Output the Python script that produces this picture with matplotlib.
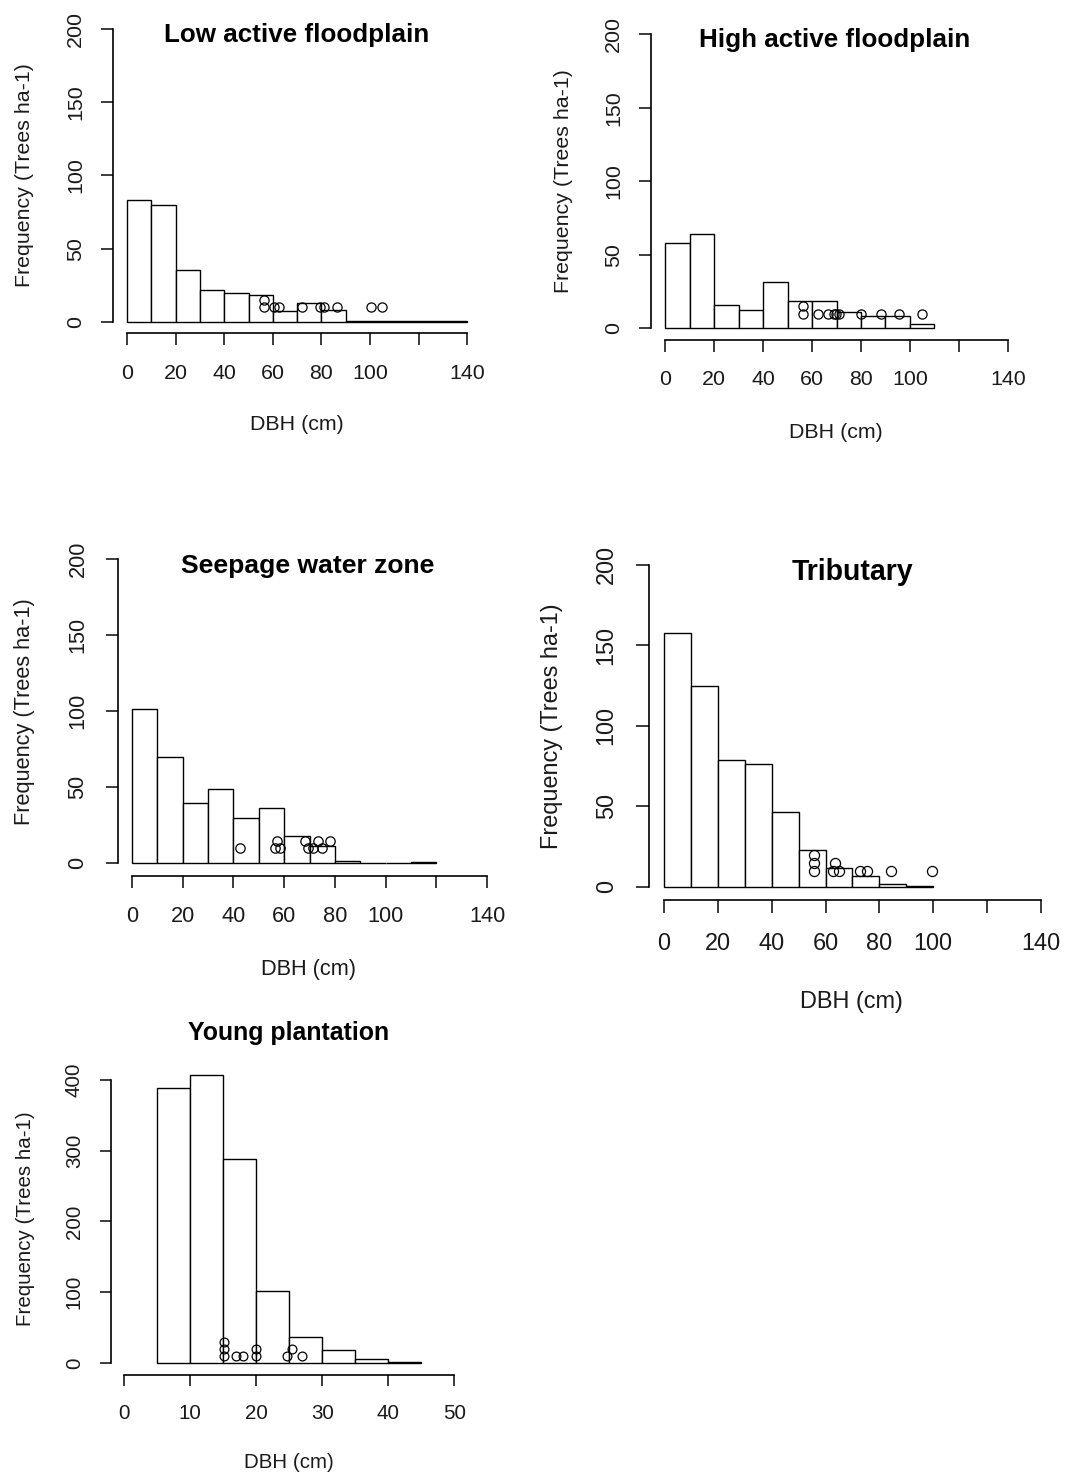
import numpy as np
import matplotlib
matplotlib.use("Agg")
import matplotlib.pyplot as plt

plt.rcParams['font.family'] = ['Liberation Sans', 'DejaVu Sans']

W, H = 1078, 1474

# ---- histogram heights (Trees ha-1) per 10 cm DBH class ----
low_edges = np.arange(0, 141, 10)
low_counts = [83.2, 79.5, 35.2, 21.4, 19.4, 18.6, 7.4, 13.0, 8.3, 0.7, 0.7, 0.5, 0.5, 0.5]
low_pts_x = [56.3, 56.3, 60.4, 62.5, 71.9, 79.4, 81.0, 86.3, 100.3, 105.1]
low_pts_y = [10, 15, 10, 10, 10, 10, 10, 10, 10, 10]

high_edges = np.arange(0, 111, 10)
high_counts = [57.9, 64.4, 15.9, 12.1, 31.4, 18.6, 18.6, 11.1, 8.2, 8.2, 2.8]
high_pts_x = [56.3, 56.3, 62.3, 66.5, 68.8, 69.7, 71.2, 79.9, 88.2, 95.6, 104.7]
high_pts_y = [10, 15, 10, 10, 10, 10, 10, 10, 10, 10, 10]

seep_edges = np.arange(0, 121, 10)
seep_counts = [101.3, 70.2, 39.5, 48.9, 29.6, 36.2, 18.0, 11.4, 1.8, 0, 0, 0.8]
seep_pts_x = [42.6, 57.1, 56.4, 58.4, 68.2, 73.5, 78.1, 69.5, 71.3, 74.8]
seep_pts_y = [10, 15, 10, 10, 15, 15, 15, 10, 10, 10]

trib_edges = np.arange(0, 101, 10)
trib_counts = [157.5, 125.0, 78.8, 76.1, 46.6, 22.8, 11.4, 6.8, 1.5, 0.5]
trib_pts_x = [55.7, 55.7, 55.7, 62.9, 63.5, 65.1, 72.8, 75.3, 84.5, 99.4]
trib_pts_y = [10, 15, 20, 10, 15, 10, 10, 10, 10, 10]

# young plantation uses 5 cm classes
young_edges = np.arange(5, 46, 5)
young_counts = [388.7, 407.6, 287.7, 101.5, 36.5, 17.9, 5.2, 1.4]
young_pts_x = [15.1, 15.1, 15.1, 17.0, 18.0, 19.95, 19.95, 24.6, 25.4, 27.0]
young_pts_y = [10, 20, 30, 10, 10, 10, 20, 10, 20, 10]

wide_xticks = list(range(0, 141, 20))
wide_xlabels = ['0', '20', '40', '60', '80', '100', '', '140']
wide_yticks = [0, 50, 100, 150, 200]
young_xticks = [0, 10, 20, 30, 40, 50]
young_xlabels = ['0', '10', '20', '30', '40', '50']
young_yticks = [0, 100, 200, 300, 400]

# panel layout: plot box in pixels (left, top, right, bottom), text scale,
# title centre, x-label centre, y-label x
panels = [
    dict(title="Low active floodplain", edges=low_edges, counts=low_counts,
         px=low_pts_x, py=low_pts_y, xticks=wide_xticks, xlabels=wide_xlabels,
         yticks=wide_yticks, xlim=(-5.6, 145.6), ylim=(-8, 208),
         box=(113.4, 17.6, 480.8, 333.4), s=1.0,
         tpos=(297, 35), xlpos=(297, 425), ylx=25),
    dict(title="High active floodplain", edges=high_edges, counts=high_counts,
         px=high_pts_x, py=high_pts_y, xticks=wide_xticks, xlabels=wide_xlabels,
         yticks=wide_yticks, xlim=(-5.6, 145.6), ylim=(-8, 208),
         box=(651.3, 22.5, 1021.7, 340.0), s=1.0,
         tpos=(835, 40), xlpos=(835.5, 432), ylx=563),
    dict(title="Seepage water zone", edges=seep_edges, counts=seep_counts,
         px=seep_pts_x, py=seep_pts_y, xticks=wide_xticks, xlabels=wide_xlabels,
         yticks=wide_yticks, xlim=(-5.6, 145.6), ylim=(-8, 208),
         box=(117.5, 547.1, 501.5, 875.5), s=1.02,
         tpos=(308, 566), xlpos=(308.5, 970), ylx=25),
    dict(title="Tributary", edges=trib_edges, counts=trib_counts,
         px=trib_pts_x, py=trib_pts_y, xticks=wide_xticks, xlabels=wide_xlabels,
         yticks=wide_yticks, xlim=(-5.6, 145.6), ylim=(-8, 208),
         box=(648.9, 552.1, 1056.0, 899.6), s=1.1,
         tpos=(852.5, 572), xlpos=(851.5, 1002), ylx=552),
    dict(title="Young plantation", edges=young_edges, counts=young_counts,
         px=young_pts_x, py=young_pts_y, xticks=young_xticks, xlabels=young_xlabels,
         yticks=young_yticks, xlim=(-2, 52), ylim=(-16.3, 424.3),
         box=(111.0, 1062.8, 467.5, 1374.5), s=0.96,
         tpos=(288.5, 1033), xlpos=(288.5, 1463), ylx=26),
]

fig = plt.figure(figsize=(W / 100, H / 100), dpi=100)
fig.patch.set_facecolor('white')

base = 15.4  # label size in pt
for p in panels:
    l, t, r, b = p["box"]
    ax = fig.add_axes([l / W, 1 - b / H, (r - l) / W, (b - t) / H])
    ax.set_xlim(*p["xlim"])
    ax.set_ylim(*p["ylim"])
    s = p["s"]

    edges = p["edges"]
    width = edges[1] - edges[0]
    ax.bar(edges[:-1], p["counts"], width=width, align='edge',
           facecolor='white', edgecolor='black', linewidth=1.0)
    ax.plot(p["px"], p["py"], linestyle='none', marker='o', ms=6.6 * s,
            mfc='none', mec='black', mew=0.9)

    for side in ('top', 'right'):
        ax.spines[side].set_visible(False)
    ax.spines['left'].set_bounds(p["yticks"][0], p["yticks"][-1])
    ax.spines['bottom'].set_bounds(p["xticks"][0], p["xticks"][-1])
    for side in ('left', 'bottom'):
        ax.spines[side].set_linewidth(1.2)

    ax.set_xticks(p["xticks"])
    ax.set_xticklabels(p["xlabels"])
    ax.set_yticks(p["yticks"])
    ax.set_yticklabels([str(v) for v in p["yticks"]], rotation=90, va='center')
    ax.tick_params(length=8.6 * s, width=1.2, labelsize=base * s,
                   colors='#1a1a1a')
    ax.tick_params(axis='x', pad=13.2 * s)
    ax.tick_params(axis='y', pad=11.8 * s)

    fig.text(p["tpos"][0] / W, 1 - p["tpos"][1] / H, p["title"],
             ha='center', va='center', fontsize=18.7 * s, fontweight='bold')
    fig.text(p["xlpos"][0] / W, 1 - p["xlpos"][1] / H, "DBH (cm)",
             ha='center', va='center', fontsize=base * s, color='#1a1a1a')
    fig.text(p["ylx"] / W, 1 - ((t + b) / 2) / H, "Frequency (Trees ha-1)",
             ha='center', va='center', rotation=90, fontsize=base * s,
             color='#1a1a1a')

fig.savefig("out.png", dpi=100, facecolor='white')
